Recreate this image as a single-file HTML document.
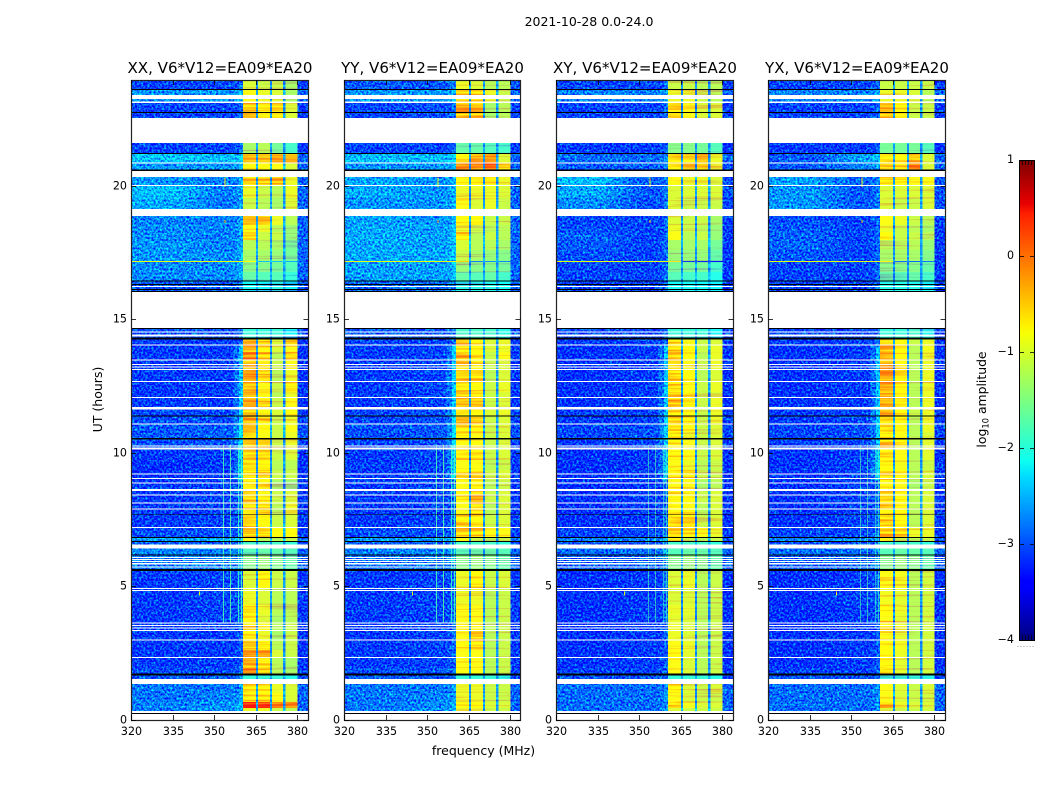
<!DOCTYPE html>
<html lang="en">
<head>
<meta charset="utf-8">
<title>2021-10-28 0.0-24.0</title>
<style>
html,body{margin:0;padding:0;background:#fff;}
svg{display:block;}
text{font-family:"DejaVu Sans","Liberation Sans",sans-serif;fill:#000;}
</style>
</head>
<body>
<svg id="figure" xmlns="http://www.w3.org/2000/svg" width="1050" height="800" viewBox="0 0 1050 800">
  <defs>
    <filter id="speckle" x="0" y="0" width="100%" height="100%" color-interpolation-filters="sRGB">
      <feTurbulence type="fractalNoise" baseFrequency="0.48" numOctaves="2" seed="7" result="n"/>
      <feColorMatrix in="n" type="matrix" values="0 0 0 0 0.5  1 0 0 0 0  0 0 0 0 0.5  0 0 0 0 1" result="g"/>
      <feComposite in="SourceGraphic" in2="g" operator="arithmetic" k1="0" k2="1" k3="1.8" k4="-0.9"/>
    </filter>
    <filter id="streak" x="0" y="0" width="100%" height="100%" color-interpolation-filters="sRGB">
      <feTurbulence type="fractalNoise" baseFrequency="0.012 0.38" numOctaves="2" seed="11" result="n"/>
      <feColorMatrix in="n" type="matrix" values="0 0 0 0 0.5  1 0 0 0 0  0 0 0 0 0.5  0 0 0 0 1" result="g"/>
      <feComposite in="SourceGraphic" in2="g" operator="arithmetic" k1="0" k2="1" k3="1.1" k4="-0.5"/>
    </filter>
    <linearGradient id="jet-gradient" x1="0" y1="1" x2="0" y2="0">
      <stop offset="0" stop-color="#00007f"/>
      <stop offset="0.11" stop-color="#0000ff"/>
      <stop offset="0.125" stop-color="#0000ff"/>
      <stop offset="0.34" stop-color="#00dbff"/>
      <stop offset="0.375" stop-color="#0dfff0"/>
      <stop offset="0.64" stop-color="#f8ff03"/>
      <stop offset="0.66" stop-color="#ffef00"/>
      <stop offset="0.89" stop-color="#ff1e00"/>
      <stop offset="0.91" stop-color="#e80000"/>
      <stop offset="1" stop-color="#7f0000"/>
    </linearGradient>
  </defs>
  <text x="589" y="26" text-anchor="middle" font-size="12.5">2021-10-28 0.0-24.0</text>
  <text x="483.5" y="755" text-anchor="middle" font-size="12.5">frequency (MHz)</text>
  <text transform="translate(102,399.5) rotate(-90)" text-anchor="middle" font-size="12.5">UT (hours)</text>
  <text transform="translate(986,399.5) rotate(-90)" text-anchor="middle" font-size="12.4">log<tspan font-size="8.4" dy="2.5">10</tspan><tspan dy="-2.5"> amplitude</tspan></text>
  <g id="panels"></g>
  <g id="colorbar">
    <rect x="1019.5" y="160.5" width="15" height="480" fill="url(#jet-gradient)" stroke="#000" stroke-width="1"/>
  </g>
</svg>
<script>
const freqTicks = [320, 335, 350, 365, 380];
const hourTicks = [0, 5, 10, 15, 20];
const colorTicks = [1, 0, -1, -2, -3, -4];
const panelTitles = ['XX, V6*V12=EA09*EA20', 'YY, V6*V12=EA09*EA20', 'XY, V6*V12=EA09*EA20', 'YX, V6*V12=EA09*EA20'];
const freqEdges = [320, 338, 341, 344, 347, 350, 357, 359, 360.5, 365.1, 365.9, 370.1, 370.9, 374.9, 375.7, 380.1, 384];
const rowEdges = [23.95,23.58,23.09,22.53,21.59,21.22,20.84,20.54,20.32,19.98,19.53,19.12,18.86,18.52,18.26,17.96,17.58,17.17,17.13,16.76,16.42,16.01,14.66,14.25,14.03,13.76,13.46,13.09,12.68,12.27,12.04,11.67,11.37,11.07,10.77,10.51,10.13,9.72,9.34,8.97,8.60,8.11,7.66,7.21,6.80,6.65,6.42,6.16,5.56,4.93,4.29,3.91,3.61,3.31,2.98,2.60,2.30,1.93,1.67,1.33,0.99,0.66,0.43,0.28,0];
const blankGaps = [[23.39,23.24],[23.15,23.09],[22.53,21.59],[20.86,20.82],[20.54,20.32],[20.02,19.98],[19.12,18.86],[16.24,16.20],[16.01,14.66],[14.53,14.49],[14.42,14.34],[14.04,14.01],[13.48,13.45],[13.31,13.28],[13.22,13.18],[13.13,13.09],[12.68,12.64],[12.08,12.04],[11.70,11.61],[11.09,11.05],[10.26,10.22],[10.19,10.11],[9.21,9.18],[9.04,9.01],[8.88,8.84],[8.63,8.56],[8.43,8.39],[8.13,8.09],[7.90,7.87],[7.21,7.17],[6.55,6.40],[6.09,6.05],[6.01,5.97],[5.94,5.90],[5.86,5.81],[5.73,5.69],[4.93,4.89],[4.85,4.81],[3.63,3.60],[3.54,3.50],[3.45,3.41],[3.35,3.31],[3.00,2.96],[2.34,2.30],[1.52,1.33],[0.32,0.24],[0.21,0]];
const deadRows = [[23.61,23.58],[22.75,22.71],[21.22,21.18],[20.60,20.54],[16.44,16.40],[16.31,16.27],[16.12,16.09],[16.05,16.01],[14.66,14.62],[14.31,14.23],[11.39,11.35],[10.54,10.49],[7.70,7.67],[6.84,6.80],[6.69,6.65],[6.18,6.14],[5.64,5.56],[1.72,1.65],[0.24,0.21]];
const rfiLines = [[353.2,3.6,10.3,-1.8],[355.7,3.6,10.3,-1.7],[358.6,3.6,10.3,-1.9],[359.7,3.6,10.3,-1.8]];
const rfiSpots = [[353.7,19.95,20.3,-0.7],[353.7,18.6,18.7,-0.4],[344.5,4.65,4.8,-0.9]];
const spikeRow = [17.17, 17.13, -0.85];

const xxRows = [
[-3.05,-3.05,-1.0,-1.1,-1.1,-1.3],[-2.65,-2.65,-0.8,-0.9,-1.0,-1.3],[-3.05,-3.05,-0.45,-0.7,-0.6,-1.0],[-3.05,-3.05,-1,-1,-1,-1],
[-3.05,-3.05,-1.3,-1.2,-1.6,-1.9],[-2.4,-2.45,-0.4,-0.4,-0.2,-0.3],[-2.65,-2.65,-0.7,-0.7,-0.8,-1.0],[-2.7,-2.7,-1,-1,-1,-1],
[-2.65,-2.75,-0.5,-0.5,-0.4,-0.9],[-2.45,-2.75,-0.9,-1.1,-1.2,-0.9],[-2.55,-2.8,-1.1,-1.2,-1.3,-1.0],[-2.7,-2.7,-1,-1,-1,-1],
[-2.75,-2.75,-0.4,-0.4,-0.9,-1.2],[-2.7,-2.75,-0.8,-0.9,-1.2,-1.4],[-2.7,-2.75,-0.5,-1.1,-1.1,-1.4],[-2.65,-2.75,-1.2,-1.2,-1.3,-1.6],
[-2.65,-2.7,-1.3,-1.3,-1.4,-1.6],[-2.7,-2.7,-0.7,-2.8,-2.8,-2.8],[-2.7,-2.7,-1.5,-1.5,-1.6,-1.8],[-2.7,-2.7,-1.7,-1.8,-1.8,-2.0],
[-2.95,-2.95,-2.2,-2.2,-2.1,-2.3],[-3,-3,-2,-2,-2,-2],[-3.0,-3.0,-2.0,-2.0,-2.0,-2.3],
[-3.1,-3.1,-0.2,-0.5,-1.0,-0.6],[-3.1,-3.1,-0.3,-0.6,-1.0,-0.8],[-3.1,-3.1,-0.15,-0.5,-1.2,-0.5],[-3.1,-3.1,-0.4,-0.7,-1.1,-0.8],[-3.1,-3.1,-0.2,-0.6,-1.2,-0.9],
[-3.1,-3.1,-0.4,-0.8,-1.1,-0.7],[-3.1,-3.1,-0.35,-0.7,-1.2,-0.9],[-3.1,-3.1,-0.3,-0.6,-1.1,-0.8],[-3.05,-3.05,-0.4,-0.7,-1.0,-0.7],[-3.0,-3.0,-0.3,-0.5,-1.1,-0.9],
[-2.95,-2.95,-0.4,-0.7,-1.1,-0.8],[-2.95,-2.9,-0.6,-0.8,-1.1,-0.9],[-3.0,-3.0,-0.4,-0.6,-1.1,-0.9],[-3.1,-3.1,-0.5,-0.6,-1.1,-1.0],[-3.15,-3.1,-0.6,-0.7,-1.2,-1.2],
[-3.15,-3.1,-0.6,-0.5,-1.1,-1.1],[-3.1,-3.05,-0.7,-0.7,-1.3,-1.4],[-3.1,-3.05,-0.5,-0.7,-1.1,-1.0],[-3.1,-3.05,-0.6,-0.6,-1.2,-0.9],[-3.1,-3.05,-0.5,-0.7,-1.1,-1.0],
[-3.0,-3.0,-0.4,-0.45,-0.7,-0.7],[-2.55,-2.55,-0.8,-1.2,-1.2,-1.1],[-2.95,-2.95,-1.9,-1.9,-1.9,-2.0],[-2.75,-2.75,-1.8,-1.7,-1.7,-1.8],[-2.8,-2.75,-1.5,-1.4,-1.5,-1.7],
[-3.1,-3.05,-1.0,-0.7,-1.1,-1.1],[-3.1,-3.05,-0.9,-1.0,-1.2,-1.2],[-3.1,-3.05,-0.6,-0.9,-1.2,-1.2],[-3.1,-3.05,-0.7,-1.0,-1.3,-1.2],[-3.1,-3.05,-0.5,-0.8,-1.2,-1.1],
[-3.1,-3.1,-0.7,-0.9,-1.3,-1.1],[-3.1,-3.1,-0.5,-0.7,-1.2,-1.1],[-3.1,-3.1,-0.1,-0.15,-1.0,-1.1],[-3.1,-3.1,-0.35,-0.6,-1.2,-1.3],[-3.0,-3.0,-0.15,-0.6,-1.2,-1.3],
[-2.95,-2.95,-2.0,-2.0,-2.0,-2.1],[-2.8,-2.8,-0.6,-0.6,-0.9,-1.0],[-2.8,-2.75,-0.7,-0.6,-0.8,-1.0],[-2.75,-2.65,0.5,0.3,-0.1,-0.2],[-2.8,-2.7,-0.9,-0.9,-1.1,-1.2],[-2.95,-2.95,-1.6,-1.6,-1.7,-1.8]
];
const yyRows = [
[-2.95,-2.95,-0.9,-1.0,-1.2,-1.2],[-2.65,-2.65,-0.6,-0.6,-0.9,-1.1],[-3.05,-3.0,-0.3,-0.4,-1.3,-1.2],[-3.0,-3.0,-1,-1,-1,-1],
[-3.05,-3.05,-1.7,-1.7,-1.8,-1.9],[-2.45,-2.45,-0.7,-0.3,-0.2,-1.0],[-2.65,-2.65,-0.3,-0.3,0.0,-0.5],[-2.65,-2.65,-1,-1,-1,-1],
[-2.55,-2.65,-0.7,-0.7,-0.7,-0.9],[-2.55,-2.65,-0.9,-0.9,-0.9,-1.0],[-2.65,-2.65,-0.8,-1.0,-0.9,-1.1],[-2.6,-2.6,-1,-1,-1,-1],
[-2.6,-2.65,-0.7,-0.7,-1.1,-1.1],[-2.55,-2.6,-0.9,-1.1,-1.2,-1.2],[-2.55,-2.6,-0.5,-1.2,-1.1,-1.2],[-2.55,-2.6,-1.0,-1.2,-1.2,-1.3],
[-2.55,-2.55,-1.1,-1.3,-1.4,-1.5],[-2.6,-2.6,-0.5,-2.8,-2.8,-2.8],[-2.6,-2.6,-1.4,-1.5,-1.5,-1.6],[-2.6,-2.6,-1.7,-1.8,-1.7,-1.9],
[-2.85,-2.85,-2.1,-2.1,-2.1,-2.2],[-3,-3,-2,-2,-2,-2],[-2.95,-2.95,-1.9,-1.9,-1.9,-2.1],
[-3.05,-3.05,-0.4,-0.6,-1.0,-0.9],[-3.1,-3.05,-0.5,-0.7,-1.0,-0.9],[-3.1,-3.05,-0.35,-0.6,-1.1,-0.8],[-3.1,-3.05,-0.55,-0.7,-1.1,-1.0],[-3.1,-3.05,-0.4,-0.5,-1.2,-1.0],
[-3.1,-3.05,-0.6,-0.7,-1.1,-0.9],[-3.1,-3.05,-0.5,-0.6,-1.1,-1.0],[-3.1,-3.05,-0.4,-0.45,-1.1,-1.0],[-3.05,-3.0,-0.6,-0.7,-1.0,-0.9],[-3.05,-3.0,-0.5,-0.6,-1.1,-1.0],
[-3.0,-2.95,-0.6,-0.7,-1.1,-1.0],[-3.0,-2.95,-0.7,-0.8,-1.1,-1.0],[-3.05,-3.0,-0.7,-0.7,-1.1,-1.0],[-3.1,-3.05,-0.7,-0.7,-1.1,-1.0],[-3.1,-3.05,-0.8,-0.8,-1.2,-1.1],
[-3.1,-3.05,-0.7,-0.6,-1.1,-1.0],[-3.1,-3.05,-0.8,-0.7,-1.2,-1.1],[-3.1,-3.05,-0.7,-0.4,-1.1,-1.0],[-3.1,-3.05,-0.8,-0.6,-1.2,-1.0],[-3.1,-3.05,-0.6,-0.7,-1.1,-1.0],
[-3.0,-3.0,-0.5,-0.5,-0.8,-0.8],[-2.6,-2.6,-0.8,-1.1,-1.2,-1.1],[-2.95,-2.95,-1.9,-1.9,-1.9,-2.0],[-2.75,-2.75,-1.8,-1.7,-1.7,-1.8],[-2.85,-2.8,-1.5,-1.4,-1.5,-1.7],
[-3.1,-3.05,-0.9,-0.7,-1.1,-1.0],[-3.1,-3.05,-0.9,-0.9,-1.2,-1.1],[-3.1,-3.05,-0.8,-0.8,-1.2,-1.1],[-3.1,-3.05,-0.8,-0.8,-1.2,-1.1],[-3.1,-3.05,-0.8,-0.8,-1.2,-1.1],
[-3.1,-3.05,-0.8,-0.5,-1.2,-1.1],[-3.1,-3.05,-0.7,-0.6,-1.2,-1.1],[-3.1,-3.05,-0.8,-0.8,-1.2,-1.1],[-3.1,-3.05,-0.8,-0.8,-1.2,-1.1],[-3.0,-3.0,-0.8,-0.8,-1.2,-1.1],
[-2.95,-2.95,-2.0,-2.0,-2.0,-2.1],[-2.8,-2.8,-0.9,-0.9,-1.1,-1.1],[-2.8,-2.75,-0.9,-0.9,-1.1,-1.1],[-2.8,-2.7,-0.7,-0.75,-1.0,-1.0],[-2.8,-2.7,-0.9,-0.9,-1.1,-1.1],[-2.95,-2.95,-1.6,-1.6,-1.7,-1.8]
];
const xyRows = [
[-3.05,-3.05,-1.1,-1.1,-1.2,-1.2],[-2.75,-2.75,-0.9,-0.9,-1.1,-1.2],[-3.05,-3.05,-0.6,-0.8,-1.0,-1.0],[-3.05,-3.05,-1,-1,-1,-1],
[-3.1,-3.1,-1.5,-1.5,-1.6,-1.8],[-2.85,-2.85,-0.6,-0.7,-0.5,-0.9],[-2.95,-2.95,-0.7,-0.5,-0.7,-0.9],[-2.9,-2.9,-1,-1,-1,-1],
[-2.45,-2.95,-0.8,-0.9,-0.9,-1.0],[-2.55,-2.95,-1.0,-1.0,-1.0,-1.0],[-2.7,-3.0,-1.0,-1.1,-1.1,-1.1],[-3.0,-3.0,-1,-1,-1,-1],
[-3.05,-3.05,-1.0,-1.1,-1.1,-1.3],[-3.0,-3.05,-0.9,-1.1,-1.2,-1.4],[-2.9,-3.05,-0.8,-1.2,-1.1,-1.4],[-2.95,-3.05,-1.3,-1.3,-1.3,-1.6],
[-3.0,-3.05,-1.4,-1.4,-1.4,-1.7],[-3.05,-3.05,-0.8,-3.0,-3.0,-3.0],[-3.05,-3.05,-1.6,-1.6,-1.6,-1.9],[-3.05,-3.05,-1.8,-1.9,-1.9,-2.1],
[-3.05,-3.05,-2.2,-2.2,-2.2,-2.3],[-3,-3,-2,-2,-2,-2],[-3.05,-3.05,-2.0,-2.0,-2.0,-2.2],
[-3.1,-3.05,-0.6,-0.8,-1.1,-1.0],[-3.15,-3.1,-0.5,-0.7,-1.1,-0.9],[-3.15,-3.1,-0.4,-0.7,-1.2,-0.9],[-3.15,-3.1,-0.6,-0.8,-1.1,-0.9],[-3.15,-3.1,-0.45,-0.7,-1.2,-1.0],
[-3.15,-3.1,-0.6,-0.8,-1.1,-0.9],[-3.15,-3.1,-0.5,-0.7,-1.1,-1.0],[-3.15,-3.1,-0.35,-0.6,-1.1,-0.9],[-3.1,-3.05,-0.6,-0.8,-1.1,-0.9],[-3.1,-3.05,-0.5,-0.7,-1.1,-0.9],
[-3.05,-3.0,-0.6,-0.8,-1.1,-1.0],[-3.05,-3.0,-0.7,-0.9,-1.1,-1.0],[-3.1,-3.05,-0.7,-0.8,-1.1,-1.0],[-3.15,-3.1,-0.75,-0.8,-1.1,-1.0],[-3.15,-3.1,-0.8,-0.9,-1.2,-1.1],
[-3.15,-3.1,-0.7,-0.7,-1.1,-1.1],[-3.15,-3.1,-0.8,-0.8,-1.3,-1.2],[-3.15,-3.1,-0.7,-0.75,-1.1,-1.0],[-3.15,-3.1,-0.7,-0.7,-1.2,-1.0],[-3.15,-3.1,-0.6,-0.7,-1.1,-1.0],
[-3.05,-3.05,-0.5,-0.6,-0.8,-0.9],[-2.75,-2.75,-0.8,-1.1,-1.2,-1.1],[-3.0,-3.0,-1.9,-1.9,-1.9,-2.0],[-2.85,-2.85,-1.8,-1.7,-1.7,-1.8],[-2.95,-2.9,-1.5,-1.4,-1.5,-1.7],
[-3.15,-3.1,-1.0,-0.9,-1.2,-1.1],[-3.15,-3.1,-1.0,-1.0,-1.2,-1.1],[-3.15,-3.1,-0.9,-0.95,-1.2,-1.1],[-3.15,-3.1,-0.95,-1.0,-1.2,-1.1],[-3.15,-3.1,-0.9,-1.0,-1.2,-1.1],
[-3.15,-3.1,-0.9,-1.0,-1.2,-1.1],[-3.15,-3.1,-0.8,-0.9,-1.2,-1.1],[-3.15,-3.1,-0.75,-0.95,-1.2,-1.1],[-3.15,-3.1,-0.8,-1.0,-1.2,-1.1],[-3.05,-3.05,-0.8,-1.0,-1.2,-1.1],
[-3.0,-3.0,-2.0,-2.0,-2.0,-2.1],[-2.85,-2.85,-0.7,-1.0,-1.1,-1.0],[-2.85,-2.85,-0.8,-1.0,-1.1,-1.1],[-2.85,-2.85,-0.6,-0.85,-1.0,-1.0],[-2.85,-2.85,-1.0,-1.1,-1.1,-1.1],[-3.0,-3.0,-1.7,-1.7,-1.7,-1.8]
];
const yxRows = [
[-3.05,-3.05,-1.1,-1.1,-1.1,-1.1],[-2.75,-2.75,-0.9,-0.9,-1.0,-1.2],[-3.05,-3.05,-0.4,-0.7,-1.1,-1.1],[-3.05,-3.05,-1,-1,-1,-1],
[-3.1,-3.1,-1.6,-1.6,-1.6,-1.8],[-2.95,-2.6,-0.6,-0.7,-0.4,-1.0],[-2.95,-2.75,-0.4,-0.5,0.0,-1.0],[-2.9,-2.9,-1,-1,-1,-1],
[-2.6,-2.9,-0.6,-0.7,-0.8,-0.8],[-2.65,-2.95,-1.0,-1.0,-1.0,-1.0],[-2.65,-2.95,-1.0,-1.1,-1.1,-1.0],[-3.0,-3.0,-1,-1,-1,-1],
[-3.0,-3.05,-0.8,-0.9,-1.1,-1.2],[-2.95,-3.05,-0.9,-1.1,-1.2,-1.3],[-2.9,-3.05,-0.7,-1.1,-1.1,-1.2],[-2.9,-3.05,-1.2,-1.2,-1.2,-1.4],
[-2.95,-3.05,-1.3,-1.3,-1.3,-1.5],[-3.05,-3.05,-0.7,-2.9,-2.9,-2.9],[-3.05,-3.05,-1.5,-1.5,-1.5,-1.7],[-3.05,-3.05,-1.7,-1.8,-1.7,-1.9],
[-3.05,-3.05,-2.1,-2.1,-2.1,-2.2],[-3,-3,-2,-2,-2,-2],[-3.05,-3.05,-2.0,-2.0,-1.9,-2.1],
[-3.1,-3.05,-0.5,-0.7,-1.1,-0.9],[-3.15,-3.1,-0.35,-0.7,-1.2,-0.85],[-3.15,-3.1,-0.3,-0.65,-1.2,-0.9],[-3.15,-3.1,-0.4,-0.75,-1.2,-0.9],[-3.15,-3.1,-0.3,-0.65,-1.2,-0.9],
[-3.15,-3.1,-0.35,-0.7,-1.2,-0.9],[-3.15,-3.1,-0.3,-0.65,-1.2,-0.9],[-3.15,-3.1,-0.3,-0.6,-1.2,-0.9],[-3.1,-3.05,-0.4,-0.7,-1.1,-0.9],[-3.1,-3.05,-0.35,-0.65,-1.2,-0.9],
[-3.05,-3.0,-0.5,-0.75,-1.2,-0.9],[-3.05,-3.0,-0.6,-0.8,-1.2,-1.0],[-3.1,-3.05,-0.55,-0.75,-1.2,-0.95],[-3.15,-3.1,-0.6,-0.8,-1.2,-0.95],[-3.15,-3.05,-0.7,-0.85,-1.2,-1.1],
[-3.15,-3.05,-0.6,-0.75,-1.2,-1.0],[-3.15,-3.05,-0.7,-0.8,-1.3,-1.1],[-3.15,-3.05,-0.55,-0.75,-1.2,-1.0],[-3.15,-3.05,-0.6,-0.75,-1.2,-1.0],[-3.15,-3.05,-0.5,-0.75,-1.2,-1.0],
[-3.05,-3.05,-0.45,-0.55,-0.9,-0.9],[-2.75,-2.75,-0.8,-1.1,-1.2,-1.1],[-3.0,-3.0,-1.9,-1.9,-1.9,-2.0],[-2.85,-2.85,-1.8,-1.7,-1.7,-1.8],[-2.95,-2.9,-1.5,-1.4,-1.5,-1.7],
[-3.15,-3.1,-0.8,-0.85,-1.2,-1.05],[-3.15,-3.05,-0.85,-0.95,-1.2,-1.05],[-3.15,-3.1,-0.75,-0.9,-1.2,-1.05],[-3.15,-3.1,-0.8,-0.95,-1.2,-1.05],[-3.15,-3.1,-0.75,-0.9,-1.2,-1.05],
[-3.15,-3.1,-0.8,-0.95,-1.2,-1.05],[-3.15,-3.1,-0.7,-0.85,-1.2,-1.05],[-3.15,-3.1,-0.7,-0.9,-1.2,-1.05],[-3.15,-3.1,-0.75,-0.95,-1.2,-1.05],[-3.05,-3.05,-0.75,-0.95,-1.2,-1.05],
[-3.0,-3.0,-2.0,-2.0,-2.0,-2.1],[-2.85,-2.85,-0.8,-1.0,-1.1,-1.0],[-2.85,-2.85,-0.8,-1.0,-1.1,-1.05],[-2.85,-2.85,-0.5,-0.9,-1.0,-1.0],[-2.85,-2.85,-1.0,-1.1,-1.1,-1.05],[-3.0,-3.0,-1.7,-1.7,-1.7,-1.8]
];
const panelRows = [xxRows, yyRows, xyRows, yxRows];

const SVG_NS = 'http://www.w3.org/2000/svg';
function mk(parent, tag, attrs) {
  const el = document.createElementNS(SVG_NS, tag);
  for (const k in attrs) el.setAttribute(k, attrs[k]);
  parent.appendChild(el);
  return el;
}
function interp(anchors, t) {
  for (let i = 1; i < anchors.length; i++) {
    if (t <= anchors[i][0]) {
      const a = anchors[i - 1], b = anchors[i];
      return a[1] + (b[1] - a[1]) * (t - a[0]) / (b[0] - a[0]);
    }
  }
  return anchors[anchors.length - 1][1];
}
const jetR = [[0,0],[0.35,0],[0.66,1],[0.89,1],[1,0.5]];
const jetG = [[0,0],[0.125,0],[0.375,1],[0.64,1],[0.91,0],[1,0]];
const jetB = [[0,0.5],[0.11,1],[0.34,1],[0.65,0],[1,0]];
function colorScale(v) {
  const t = Math.max(0, Math.min(1, (v + 4) / 5));
  const c = [jetR, jetG, jetB].map(a => Math.round(255 * interp(a, t)));
  return 'rgb(' + c.join(',') + ')';
}
function yScale(h) { return 719.5 - 26.7 * h; }
function channelValue(i, row, hour) {
  const [bgL, bgM, a, b, c, d] = row;
  const notch = Math.min(bgM + 0.35, -2.65);
  const steep = hour > 9 && hour < 14.25;
  const mix = m => bgL + (bgM - bgL) * m;
  return [bgL, mix(0.2), mix(0.4), mix(0.6), mix(0.8), bgM,
          bgM + (steep ? 0.25 : 0.05), bgM + (steep ? 0.7 : 0.2),
          a, notch, b, notch, c, notch, d, Math.min(bgM - 0.05, -2.9)][i];
}
function drawPanel(root, index) {
  const left = [131, 344, 556, 768][index];
  const right = [308, 520, 733, 945][index];
  const top = 80, bottom = 720;
  const xScale = f => Math.min(right, left + (f - 320) * 2.77);
  const panel = mk(root, 'g', {});
  
  

  const heat = mk(panel, 'g', { filter: 'url(#speckle)', 'shape-rendering': 'crispEdges' });
  
  
  const bands = mk(panel, 'g', { filter: 'url(#streak)', 'shape-rendering': 'crispEdges' });
  
  
  const rows = panelRows[index];
  rows.forEach((row, r) => {
    const y0 = yScale(rowEdges[r]), y1 = yScale(rowEdges[r + 1]);
    for (let c = 0; c < freqEdges.length - 1; c++) {
      const x0 = xScale(freqEdges[c]), x1 = xScale(freqEdges[c + 1]);
      const isBand = c >= 8 && c <= 14;
      const cell = mk(isBand ? bands : heat, 'rect', { x: x0, y: y0, width: x1 - x0, height: y1 - y0, fill: colorScale(channelValue(c, row, rowEdges[r])) });
      
      
    }
  });

  const marks = mk(panel, 'g', { 'shape-rendering': 'crispEdges' });
  
  
  rfiLines.forEach(line => {
    const rfi = mk(marks, 'rect', { x: xScale(line[0]), y: yScale(line[2]), width: 1, height: yScale(line[1]) - yScale(line[2]), fill: colorScale(line[3]), opacity: index < 2 ? 0.85 : 0.6 });
    
    
  });
  rfiSpots.forEach(spot => {
    const dot = mk(marks, 'rect', { x: xScale(spot[0]), y: yScale(spot[2]), width: 1.2, height: yScale(spot[1]) - yScale(spot[2]), fill: colorScale(spot[3]) });
    
    
  });
  const spike = mk(marks, 'rect', { x: left, y: yScale(spikeRow[0]) , width: xScale(361) - left, height: yScale(spikeRow[1]) - yScale(spikeRow[0]), fill: colorScale(spikeRow[2]) });
  
  

  blankGaps.forEach(g => {
    const gap = mk(marks, 'rect', { x: left, y: yScale(g[0]), width: right - left, height: yScale(g[1]) - yScale(g[0]), fill: '#fff' });
    
    
  });
  deadRows.forEach(g => {
    const dead = mk(marks, 'rect', { x: left, y: yScale(g[0]), width: right - left, height: yScale(g[1]) - yScale(g[0]), fill: '#000' });
    
    
  });

  const frame = mk(panel, 'rect', { x: left + 0.5, y: top + 0.5, width: right - left, height: bottom - top, fill: 'none', stroke: '#222', 'stroke-width': 1.2 });
  
  

  const title = mk(panel, 'text', { x: (left + right) / 2 + 0.5, y: 73, 'text-anchor': 'middle', 'font-size': 15.05 });
  title.textContent = panelTitles[index];
  
  

  freqTicks.forEach(f => {
    const x = Math.round(xScale(f)) + 0.5;
    const label = mk(panel, 'text', { x: x, y: 735, 'text-anchor': 'middle', 'font-size': 11.1 });
    label.textContent = f;
    
    
    const t1 = mk(panel, 'line', { x1: x, x2: x, y1: bottom, y2: bottom - 5, stroke: '#000', 'stroke-width': 0.8 });
    
    
    const t2 = mk(panel, 'line', { x1: x, x2: x, y1: top, y2: top + 5, stroke: '#000', 'stroke-width': 0.8 });
    
    
  });
  hourTicks.forEach(h => {
    const y = Math.round(yScale(h)) + 0.5;
    const label = mk(panel, 'text', { x: left - 4, y: y + 3, 'text-anchor': 'end', 'font-size': 11.1 });
    label.textContent = h;
    
    
    const t1 = mk(panel, 'line', { x1: left, x2: left + 5, y1: y, y2: y, stroke: '#000', 'stroke-width': 0.8 });
    
    
    const t2 = mk(panel, 'line', { x1: right + 0.5, x2: right - 4.5, y1: y, y2: y, stroke: '#000', 'stroke-width': 0.8 });
    
    
  });
}
const panelsRoot = document.getElementById('panels');
panelTitles.forEach((_, i) => drawPanel(panelsRoot, i));

const bar = document.getElementById('colorbar');
const colorY = v => 640 - (v + 4) * 96;
colorTicks.forEach(v => {
  const y = colorY(v) + 0.5;
  const label = mk(bar, 'text', { x: 1014, y: y + 2.5, 'text-anchor': 'end', 'font-size': 11.1 });
  label.textContent = v < 0 ? '\u2212' + Math.abs(v) : String(v);
  
  
  if (v !== 1 && v !== -4) {
    const t1 = mk(bar, 'line', { x1: 1019.5, x2: 1024, y1: y, y2: y, stroke: '#000', 'stroke-width': 0.8 });
    
    
    const t2 = mk(bar, 'line', { x1: 1030, x2: 1034.5, y1: y, y2: y, stroke: '#000', 'stroke-width': 0.8 });
    
    
  }
});
[1022.5, 1025.5, 1028.5, 1031.5].forEach(x => {
  const topTick = mk(bar, 'line', { x1: x, x2: x, y1: 161, y2: 165, stroke: '#000', 'stroke-width': 0.7 });
  
  
  const botTick = mk(bar, 'line', { x1: x, x2: x, y1: 635, y2: 640, stroke: '#000', 'stroke-width': 0.7 });
  
  
});
[1017.5, 1020.5, 1023.5, 1026.5, 1029.5, 1032.5].forEach(x => {
  const dot = mk(bar, 'rect', { x: x, y: 646, width: 1, height: 1, fill: '#999' });
  
  
});
</script>
</body>
</html>
